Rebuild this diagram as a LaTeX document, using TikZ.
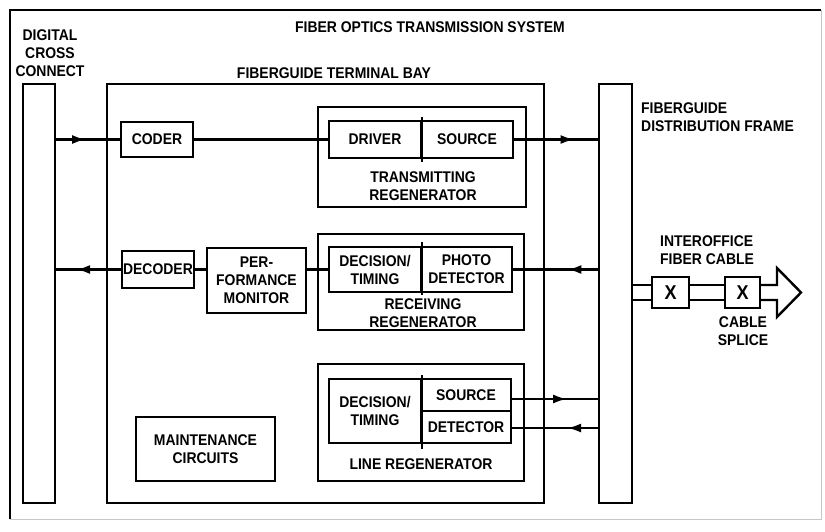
\documentclass[tikz,border=0pt]{standalone}
\usepackage{fontspec}
\setmainfont{Liberation Sans}[FakeStretch=0.9]
\usetikzlibrary{arrows.meta,decorations.markings}
\begin{document}
\begin{tikzpicture}[x=1pt,y=-1pt,
  lbl/.style={font=\fontsize{15.5}{18}\selectfont\bfseries, align=center, inner sep=0pt},
  box/.style={lbl, draw, line width=1.7pt},
  conn/.style={line width=2.4pt},
  marr/.style={postaction={decorate}, decoration={markings, mark=at position #1 with {\arrow{Latex[length=14pt,width=9pt]}}}},
  frm/.style={line width=1.4pt}]
\useasboundingbox (0,0) rectangle (825,531);
% outer frame
\draw[frm] (10,519) -- (10,10) -- (821,10);
\draw[gray!45, line width=0.8pt] (821,10) -- (821,519) -- (10,519);
% bars and bay
\node[box, minimum width=32pt, minimum height=419pt] (ddc) at (39,293.5) {};
\node[box, minimum width=437pt, minimum height=419pt] (bay) at (325.5,293.5) {};
\node[box, minimum width=33pt, minimum height=419pt] (dfr) at (615.5,293.5) {};
% transmitting regenerator
\node[box, minimum width=208pt, minimum height=100pt] (txr) at (422,157) {};
\node[box, minimum width=92pt, minimum height=37pt] (drv) at (375,139.5) {DRIVER};
\node[box, minimum width=92pt, minimum height=37pt] (src) at (467,139.5) {SOURCE};
\draw[line width=1.7pt] ([yshift=3pt]drv.north east) -- ([yshift=-3pt]drv.south east);
\node[box, minimum width=72pt, minimum height=35pt] (coder) at (157,139.5) {CODER};
% receiving regenerator
\node[box, minimum width=206pt, minimum height=96pt] (rxr) at (421,282) {};
\node[box, minimum width=92pt, minimum height=45pt] (rdt) at (375,269.5) {DECISION/\\TIMING};
\node[box, minimum width=91pt, minimum height=45pt] (pd) at (466.5,269.5) {PHOTO\\DETECTOR};
\draw[line width=1.7pt] ([yshift=4pt]rdt.north east) -- ([yshift=-2pt]rdt.south east);
\node[box, minimum width=72pt, minimum height=37pt] (dec) at (158,269.5) {DECODER};
\node[box, minimum width=99pt, minimum height=65pt] (perf) at (256.5,280.5) {PER-\\FORMANCE\\MONITOR};
% line regenerator
\node[box, minimum width=206pt, minimum height=117pt] (lrr) at (421,422.5) {};
\node[box, minimum width=92pt, minimum height=64pt] (ldt) at (375,411) {DECISION/\\TIMING};
\node[box, minimum width=90pt, minimum height=32pt] (lsrc) at (466,395) {SOURCE};
\node[box, minimum width=90pt, minimum height=32pt] (ldet) at (466,427) {DETECTOR};
\draw[line width=1.7pt] ([yshift=3pt]ldt.north east) -- ([yshift=-5pt]ldt.south east);
% maintenance
\node[box, minimum width=139pt, minimum height=64pt] (maint) at (205.5,449) {MAINTENANCE\\CIRCUITS};
% labels
\node[lbl] (title) at (430,27) {FIBER OPTICS TRANSMISSION SYSTEM};
\node[lbl] (ddcl) at (50,53) {DIGITAL\\CROSS\\CONNECT};
\node[lbl] (bayl) at (334,73) {FIBERGUIDE TERMINAL BAY};
\node[lbl] (txl) at (423,186) {TRANSMITTING\\REGENERATOR};
\node[lbl] (rxl) at (423,313) {RECEIVING\\REGENERATOR};
\node[lbl] (lrl) at (421,464) {LINE REGENERATOR};
\node[lbl, anchor=west, align=left] (dfrl) at (641,117) {FIBERGUIDE\\DISTRIBUTION FRAME};
\node[lbl, anchor=west, align=left] (cabl) at (660,250) {INTEROFFICE\\FIBER CABLE};
\node[lbl] (spl) at (743,331) {CABLE\\SPLICE};
% connectors
\draw[conn, marr=0.47] (ddc.east |- coder) -- (coder.west);
\draw[conn] (coder.east) -- (drv.west);
\draw[conn, marr=0.72] (src.east) -- (src.east -| dfr.west);
\draw[conn, marr=0.69] (dec.west) -- (dec.west -| ddc.east);
\draw[conn] (dec.east) -- (dec.east -| perf.west);
\draw[conn] (perf.east |- dec) -- (rdt.west);
\draw[conn, marr=0.36] (pd.east -| dfr.west) -- (pd.east);
\coordinate (ls) at (0,399);
\coordinate (ld) at (0,428);
\draw[conn, marr=0.64] (lsrc.east |- ls) -- (dfr.west |- ls);
\draw[conn, marr=0.36] (dfr.west |- ld) -- (ldet.east |- ld);
% cable
\coordinate (cu) at (0,285);
\coordinate (cl) at (0,300);
\coordinate (ahu) at (777,285);
\coordinate (aht) at (777,268);
\coordinate (ahp) at (801,292.5);
\coordinate (ahb) at (777,317);
\coordinate (ahl) at (777,300);
\node[box, fill=white, minimum width=37pt, minimum height=31pt, font=\fontsize{20}{20}\selectfont\bfseries] (sp1) at (670.5,292.5) {X};
\node[box, fill=white, minimum width=35pt, minimum height=31pt, font=\fontsize{20}{20}\selectfont\bfseries] (sp2) at (742.5,292.5) {X};
\draw[conn] (dfr.east |- cu) -- (sp1.west |- cu);
\draw[conn] (dfr.east |- cl) -- (sp1.west |- cl);
\draw[conn] (sp1.east |- cu) -- (sp2.west |- cu);
\draw[conn] (sp1.east |- cl) -- (sp2.west |- cl);
\draw[conn, line join=miter] (sp2.east |- cu) -- (ahu) -- (aht) -- (ahp) -- (ahb) -- (ahl) -- (sp2.east |- cl);
\end{tikzpicture}
\end{document}
